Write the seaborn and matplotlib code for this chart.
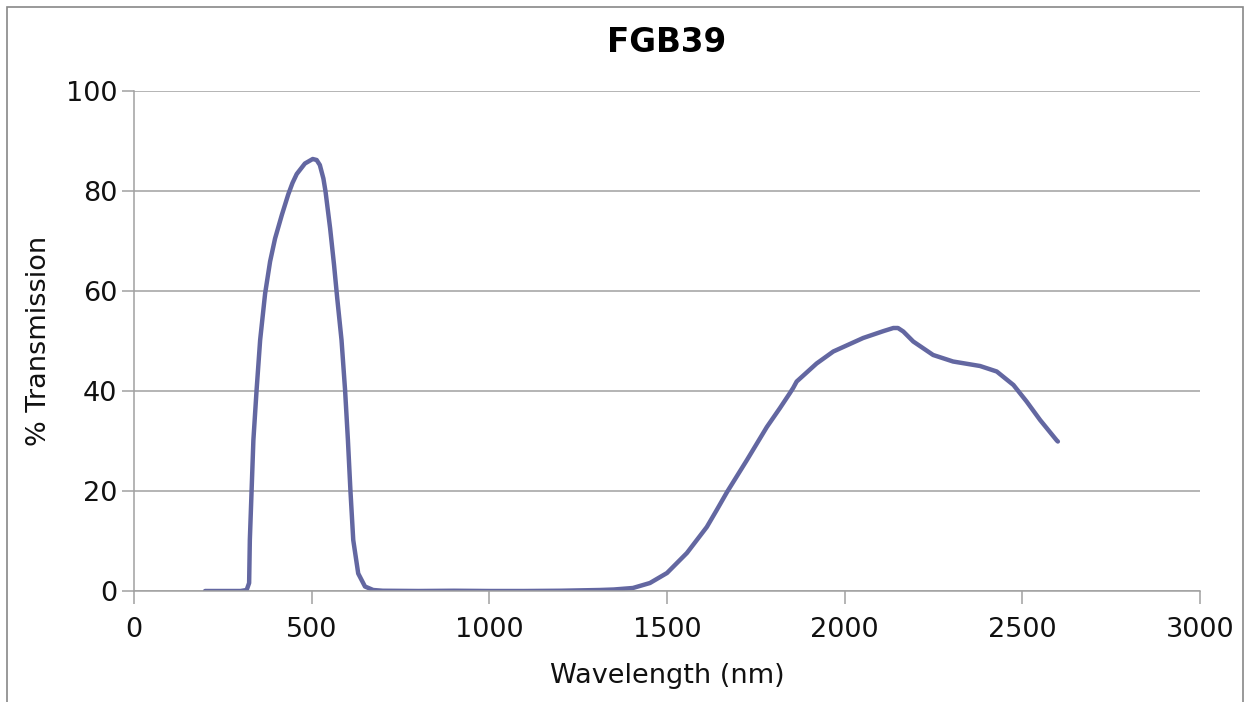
import matplotlib
matplotlib.use("Agg")
import matplotlib.pyplot as plt
from matplotlib.patches import Rectangle
import seaborn as sns
import pandas as pd

# FGB39 filter transmission curve
wavelength_nm = [200, 250, 300, 317, 324, 326, 331, 336, 345, 355, 369, 383, 397, 416,
                 434, 446, 458, 481, 503, 514, 523, 533, 539, 552, 563, 572, 584, 594,
                 602, 609, 617, 631, 650, 673, 700, 800, 900, 1000, 1100, 1200,
                 1311, 1350, 1404, 1452, 1500, 1556, 1612, 1640, 1669, 1725, 1781, 1818,
                 1846, 1855, 1865, 1921, 1968, 2052, 2110, 2137, 2150, 2165, 2193,
                 2249, 2305, 2381, 2428, 2475, 2512, 2550, 2597, 2600]
transmission_pct = [0, 0, 0, 0.2, 1.6, 10.2, 20.2, 30.2, 40.2, 50.2, 59.5, 65.9, 70.5, 75.2,
                    79.3, 81.6, 83.4, 85.5, 86.4, 86.2, 85.2, 82.5, 79.9, 72.5, 65.2, 58.5, 50.2, 40.2,
                    30.2, 20.2, 10.2, 3.5, 0.9, 0.2, 0.05, 0, 0.05, 0, 0, 0.05,
                    0.2, 0.3, 0.6, 1.6, 3.6, 7.6, 12.8, 16.2, 19.8, 26.2, 32.8, 36.6,
                    39.6, 40.6, 41.9, 45.5, 47.9, 50.6, 52.0, 52.6, 52.6, 51.9, 49.9,
                    47.2, 45.9, 45.0, 43.9, 41.2, 37.9, 34.2, 30.1, 29.9]

x_ticks = [0, 500, 1000, 1500, 2000, 2500, 3000]
y_ticks = [0, 20, 40, 60, 80, 100]

df = pd.DataFrame({"Wavelength (nm)": wavelength_nm, "% Transmission": transmission_pct})

sns.set_theme(style="white")
plt.rcParams["font.family"] = ["DejaVu Sans"]

fig = plt.figure(figsize=(12.45, 7.02), dpi=100)
ax = fig.add_axes([134 / 1245, 111 / 702, 1066 / 1245, 500 / 702])

sns.lineplot(data=df, x="Wavelength (nm)", y="% Transmission", ax=ax,
             color="#6367a1", linewidth=3.2, sort=False)
ax.lines[0].set_solid_joinstyle("round")
ax.lines[0].set_solid_capstyle("round")

grid_col = "#a0a0a0"
ax.set_xlim(0, 3000)
ax.set_ylim(0, 100)
ax.set_xticks(x_ticks)
ax.set_yticks(y_ticks)
ax.yaxis.grid(True, color=grid_col, linewidth=1.1)
ax.xaxis.grid(False)
ax.set_axisbelow(True)
for side in ("top", "right"):
    ax.spines[side].set_visible(False)
for side in ("left", "bottom"):
    ax.spines[side].set_color(grid_col)
    ax.spines[side].set_linewidth(1.1)
ax.tick_params(axis="both", which="major", direction="out", length=9, width=1.1,
               color=grid_col, labelsize=19.5, labelcolor="#111111",
               left=True, bottom=True)
ax.tick_params(axis="x", pad=10)
ax.tick_params(axis="y", pad=3)

ax.set_xlabel("Wavelength (nm)", fontsize=19.5, color="#111111", labelpad=14)
ax.set_ylabel("% Transmission", fontsize=19.5, color="#111111", labelpad=10)
ax.set_title("FGB39", fontsize=23.5, fontweight="bold", color="black", pad=28)

# outer frame around the whole chart
fig.patches.append(Rectangle((7 / 1245, -0.02), 1236 / 1245, 0.02 + 695 / 702,
                             transform=fig.transFigure, fill=False,
                             edgecolor="#888888", linewidth=1.2))

fig.savefig("out.png", dpi=100, facecolor="white")
